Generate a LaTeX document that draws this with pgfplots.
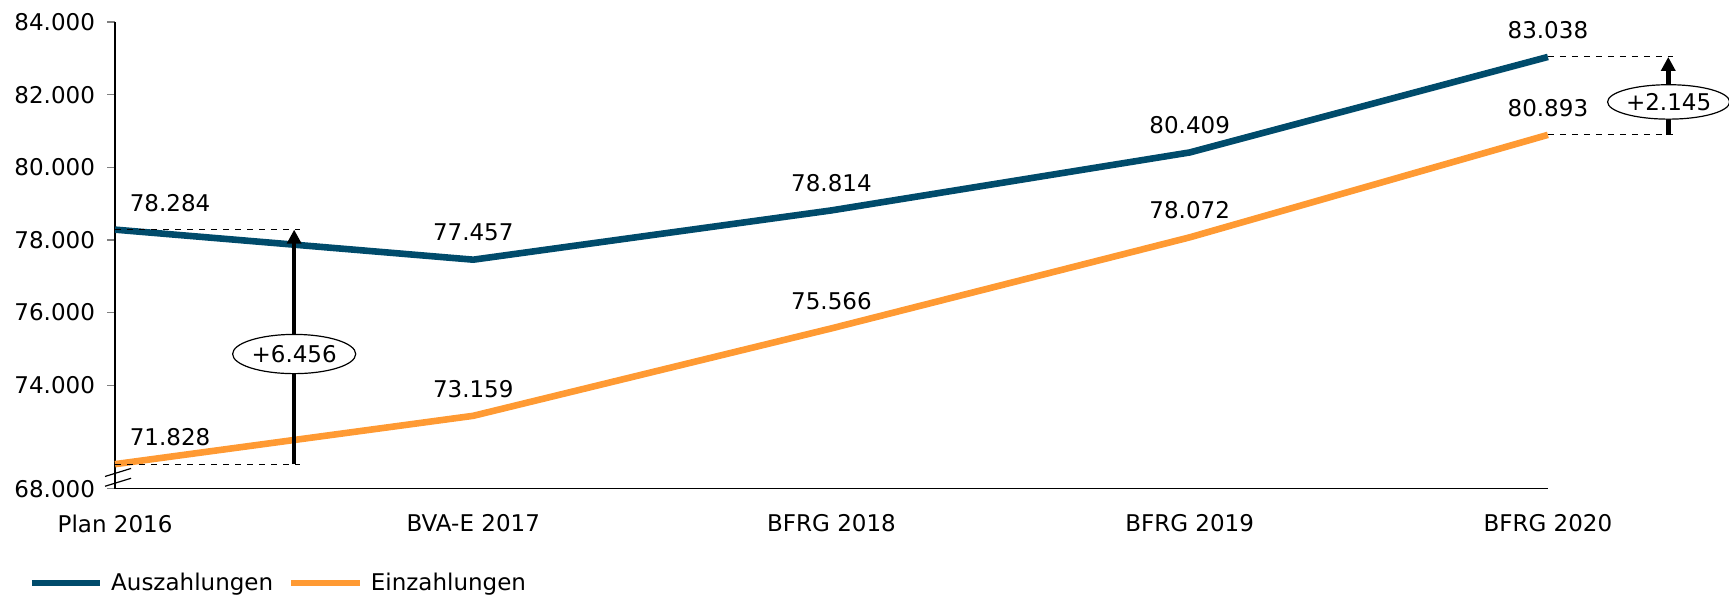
\documentclass[border=0pt]{standalone}
\usepackage{pgfplots}
\pgfplotsset{compat=1.18}
\usepackage{fontspec}
\setmainfont{DejaVu Sans}
\usetikzlibrary{arrows.meta}
\definecolor{ausblue}{HTML}{004B6B}
\definecolor{einorange}{HTML}{FF9A33}
\begin{document}
\fontsize{11.5}{13.8}\selectfont
\begin{tikzpicture}
\begin{axis}[
  scale only axis,
  width=716pt, height=233.25pt,
  xmin=0, xmax=4, ymin=71.15, ymax=84,
  axis lines=left,
  axis line style={-, line width=0.6pt},
  xtick={0,1,2,3,4},
  xticklabels={Plan 2016, BVA-E 2017, BFRG 2018, BFRG 2019, BFRG 2020},
  ytick={71.15,74,76,78,80,82,84},
  yticklabels={68.000,74.000,76.000,78.000,80.000,82.000,84.000},
  tick align=outside,
  major tick length=4pt,
  xtick style={draw=none},
  ytick style={line width=0.6pt},
  tick label style={font=\fontsize{11.5}{13.8}\selectfont},
  xticklabel style={yshift=-5pt},
  yticklabel style={xshift=-2pt},
  clip=false,
  legend columns=2,
  legend style={draw=none, fill=none, at={(rel axis cs:-0.0604,-0.202)}, anchor=west,
    font=\fontsize{11.5}{13.8}\selectfont, inner sep=0pt, outer sep=0pt,
    nodes={inner sep=0pt},
    column sep=4pt,
    /tikz/every even column/.append style={column sep=7.5pt}},
  legend image code/.code={\draw[#1] (0pt,0pt) -- (34pt,0pt);},
]
\addplot[ausblue, line width=3.3pt] coordinates {(0,78.284) (1,77.457) (2,78.814) (3,80.409) (4,83.038)};
\addlegendentry{Auszahlungen}
\addplot[einorange, line width=3.3pt] coordinates {(0,71.828) (1,73.159) (2,75.566) (3,78.072) (4,80.893)};
\addlegendentry{Einzahlungen}

% data labels
\node[yshift=13.5pt, xshift=27.5pt] at (axis cs:0,78.284) {78.284};
\node[yshift=13.5pt] at (axis cs:1,77.457) {77.457};
\node[yshift=13.5pt] at (axis cs:2,78.814) {78.814};
\node[yshift=13.5pt] at (axis cs:3,80.409) {80.409};
\node[yshift=13.5pt] at (axis cs:4,83.038) {83.038};
\node[yshift=13.5pt, xshift=27.5pt] at (axis cs:0,71.828) {71.828};
\node[yshift=13.5pt] at (axis cs:1,73.159) {73.159};
\node[yshift=13.5pt] at (axis cs:2,75.566) {75.566};
\node[yshift=13.5pt] at (axis cs:3,78.072) {78.072};
\node[yshift=13.5pt] at (axis cs:4,80.893) {80.893};

% dashed reference lines
\draw[dashed, line width=0.5pt] (axis cs:0,78.284) -- (axis cs:0.517,78.284);
\draw[dashed, line width=0.5pt] (axis cs:0,71.828) -- (axis cs:0.517,71.828);
\draw[dashed, line width=0.5pt] (axis cs:4,83.038) -- (axis cs:4.35,83.038);
\draw[dashed, line width=0.5pt] (axis cs:4,80.893) -- (axis cs:4.35,80.893);

% arrows
\draw[line width=2.3pt, -{Triangle[length=7pt,width=7pt]}] (axis cs:0.5,71.828) -- (axis cs:0.5,78.284);
\draw[line width=2.3pt, -{Triangle[length=7pt,width=7pt]}] (axis cs:4.336,80.893) -- (axis cs:4.336,83.038);
\draw[fill=white, line width=0.6pt] (axis cs:0.5,74.86) ellipse [x radius=30.75pt, y radius=9.8pt];
\node at (axis cs:0.5,74.86) {+6.456};
\draw[fill=white, line width=0.6pt] (axis cs:4.337,81.80) ellipse [x radius=30.5pt, y radius=8.6pt];
\node at (axis cs:4.337,81.80) {+2.145};

% axis break marks
\draw[line width=0.6pt] ([xshift=-5pt,yshift=-2pt]axis cs:0,71.60) -- ([xshift=8pt,yshift=2pt]axis cs:0,71.60);
\draw[line width=0.6pt] ([xshift=-5pt,yshift=-2pt]axis cs:0,71.33) -- ([xshift=8pt,yshift=2pt]axis cs:0,71.33);

\coordinate (bl) at (rel axis cs:0,0);
\coordinate (tr) at (rel axis cs:1,1);
\end{axis}
\pgfresetboundingbox
\path[use as bounding box] ([xshift=-57.5pt,yshift=-55.75pt]bl) rectangle ([xshift=90.5pt,yshift=11pt]tr);
\end{tikzpicture}
\end{document}
